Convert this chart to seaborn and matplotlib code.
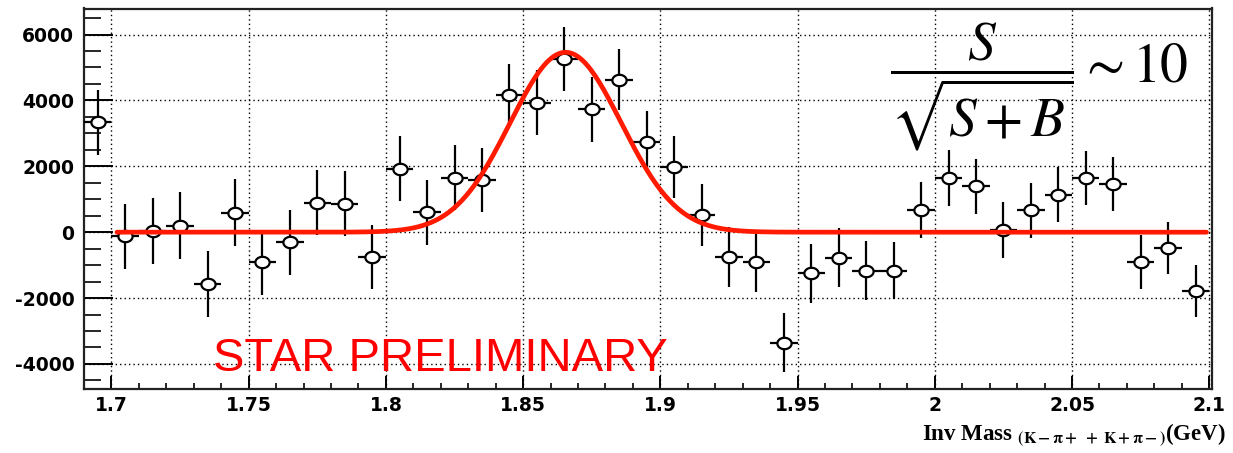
import numpy as np
import pandas as pd
import matplotlib
matplotlib.use("Agg")
import matplotlib.pyplot as plt
import seaborn as sns
from matplotlib.path import Path
from matplotlib.ticker import FixedLocator, MultipleLocator

sns.set_theme(style="white")
plt.rcParams["font.family"] = ["DejaVu Sans"]

# D0 invariant-mass spectrum (background subtracted), 10 MeV bins
mass = [1.695, 1.705, 1.715, 1.725, 1.735, 1.745, 1.755, 1.765, 1.775, 1.785,
        1.795, 1.805, 1.815, 1.825, 1.835, 1.845, 1.855, 1.865, 1.875, 1.885,
        1.895, 1.905, 1.915, 1.925, 1.935, 1.945, 1.955, 1.965, 1.975, 1.985,
        1.995, 2.005, 2.015, 2.025, 2.035, 2.045, 2.055, 2.065, 2.075, 2.085,
        2.095]
counts = [3330, -120, 40, 200, -1570, 590, -910, -310, 900, 870,
          -750, 1920, 600, 1660, 1580, 4160, 3930, 5260, 3730, 4630,
          2750, 1980, 515, -750, -900, -3350, -1250, -780, -1170, -1170,
          670, 1650, 1390, 60, 670, 1140, 1650, 1460, -900, -475,
          -1790]
count_err = [980, 985, 1010, 1010, 1010, 1010, 985, 995, 985, 985,
             975, 985, 985, 990, 970, 960, 990, 970, 985, 930,
             935, 950, 935, 910, 910, 900, 885, 895, 900, 860,
             860, 850, 830, 845, 835, 825, 825, 830, 810, 790,
             785]
bin_half_width = 0.005

# Gaussian fit to the signal peak
fit_mean = 1.8655
fit_sigma = 0.0203
fit_amp = 5460
fit_lo, fit_hi = 1.702, 2.099

x_ticks = [1.7, 1.75, 1.8, 1.85, 1.9, 1.95, 2.0, 2.05, 2.1]
x_tick_labels = ["1.7", "1.75", "1.8", "1.85", "1.9", "1.95", "2", "2.05", "2.1"]
y_ticks = [-4000, -2000, 0, 2000, 4000, 6000]
y_tick_labels = ["-4000", "-2000", "0", "2000", "4000", "6000"]

W, H = 1233, 453
fig = plt.figure(figsize=(W / 100, H / 100), dpi=100)
ax = fig.add_axes([84 / W, 1 - 389 / H, (1212 - 84) / W, (389 - 8.5) / H])

df = pd.DataFrame({"mass": mass, "counts": counts, "err": count_err})

# error bars: statistical in y, bin width in x
ax.errorbar(df["mass"], df["counts"], yerr=df["err"], xerr=bin_half_width,
            fmt="none", ecolor="black", elinewidth=1.6, capsize=0, zorder=3)

# open elliptical markers
theta = np.linspace(0, 2 * np.pi, 64)
ellipse = Path(np.column_stack([np.cos(theta), 0.8 * np.sin(theta)]), closed=True)
sns.scatterplot(data=df, x="mass", y="counts", marker=ellipse, s=105,
                color="white", edgecolor="black", linewidth=1.6, zorder=4, ax=ax)

# fitted Gaussian
fit_x = np.linspace(fit_lo, fit_hi, 500)
fit_y = fit_amp * np.exp(-0.5 * ((fit_x - fit_mean) / fit_sigma) ** 2)
sns.lineplot(x=fit_x, y=fit_y, color="#ff1a00", linewidth=3.4, zorder=5, ax=ax)

ax.set_xlim(1.69, 2.101)
ax.set_ylim(-4760, 6790)

ax.xaxis.set_major_locator(FixedLocator(x_ticks))
ax.xaxis.set_minor_locator(MultipleLocator(0.01))
ax.yaxis.set_major_locator(FixedLocator(y_ticks))
ax.yaxis.set_minor_locator(MultipleLocator(500))
ax.set_xticklabels(x_tick_labels, fontweight="bold", fontsize=13.5)
ax.set_yticklabels(y_tick_labels, fontweight="bold", fontsize=13.5)

ax.tick_params(axis="x", which="major", direction="in", length=9.5, width=1.4,
               pad=5, bottom=True, top=False, colors="black")
ax.tick_params(axis="x", which="minor", direction="in", length=4.5, width=1.4,
               bottom=True, top=False)
ax.tick_params(axis="y", which="major", direction="in", length=21, width=1.4,
               pad=7, left=True, right=False, colors="black")
ax.tick_params(axis="y", which="minor", direction="in", length=12.5, width=1.4,
               left=True, right=False)

ax.grid(True, which="major", color="black", linestyle=(0, (1, 2.2)), linewidth=1.0)
ax.set_axisbelow(True)
for sp in ax.spines.values():
    sp.set_visible(True)
    sp.set_color("#222222")
    sp.set_linewidth(1.6)

ax.set_xlabel("")
ax.set_ylabel("")

ax.text(1.737, -4212, "STAR PRELIMINARY", color="#ff0000", fontsize=34,
        family="Liberation Sans", va="baseline", ha="left", zorder=6)

fig.text(890 / W, 1 - 87 / H, r"$\dfrac{S}{\sqrt{S+B}}\sim 10$", fontsize=40,
         math_fontfamily="stix", ha="left", va="center", color="black")

fig.text(1226 / W, 1 - 440 / H,
         r"Inv Mass $_{\mathbf{(K-\pi+\ +\ K+\pi-)}}$(GeV)",
         fontsize=16.5, family="Liberation Serif", fontweight="bold",
         math_fontfamily="stix", ha="right", va="baseline", color="black")

fig.savefig("out.png", dpi=100)
